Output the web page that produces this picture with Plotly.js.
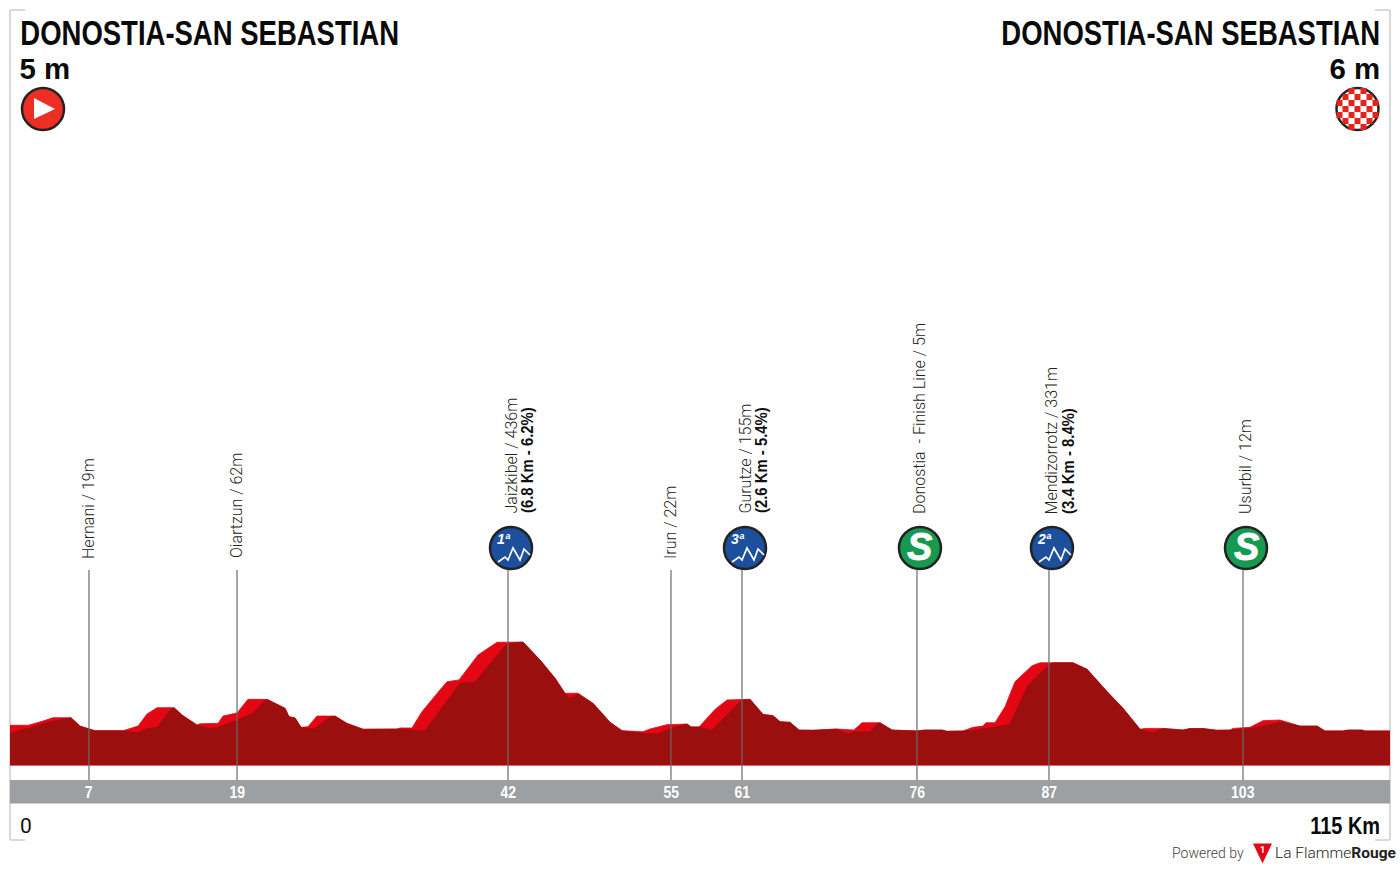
<!DOCTYPE html>
<html><head><meta charset="utf-8">
<script src="https://cdn.plot.ly/plotly-3.0.1.min.js"></script>
<style>html,body{margin:0;padding:0;background:#fff}#c{width:1400px;height:870px}</style>
</head><body><div id="c"></div>
<script>
const profileKm=[0,1.53,2.75,3.58,5.08,5.83,6.5,7.08,9.42,10.67,11.42,12.25,13.67,14.33,15.58,15.83,17.33,17.75,18.92,19.83,21.42,22.92,23.25,23.75,24.25,24.83,25.58,27.08,28.08,29.42,32.25,32.5,33.5,34.33,35.83,36.42,37.42,39,40.58,42.75,44.17,45.42,46.25,47.33,48.58,50,51,52.75,53.33,54.75,56.42,56.75,57.42,58.75,59.75,61.67,62.75,63.58,64.17,65,65.75,66.92,68.92,70.33,71,72.5,73.5,75.58,76.25,77.67,78.08,79.42,80.25,81.08,81.33,82.08,82.92,83.75,85.17,85.83,88.58,89.75,91.42,92.75,94.17,94.58,96.08,97.75,98.33,99.42,100.58,101.67,101.92,103.33,104.42,105.83,107.5,108.92,109.58,111.08,111.5,112.67,112.92,115];
const profileM=[37,37,57,73,73,33,21,11,11,33,91,121,121,86,38,44,46,81,96,161,161,118,78,72,27,30,81,81,46,18,19,24,24,102,206,245,254,373,434,435,349,262,190,190,142,51,11,6,19,40,43,29,29,113,158,161,89,83,54,51,14,13,19,14,49,49,14,10,14,14,8,10,27,33,49,49,126,245,322,336,336,305,198,118,18,22,22,14,21,21,13,14,22,27,59,62,33,33,10,10,14,14,10,10];
const shadeKm=[0,0.83,1.92,3.33,4.83,5.08,5.83,6.5,7.08,9.42,10.58,11.42,12.25,13.33,13.67,14.33,15.58,16.67,17.33,18.92,20.25,21.25,21.42,22.92,23.25,23.75,24.25,25.25,26.67,27.08,28.08,29.42,32.25,33.5,34.58,37.5,38.75,41.08,41.5,42.75,44.17,45.42,46.25,46.67,47.33,48.58,50,51,52.75,53.92,55,56.42,56.75,57.42,58.5,60.83,61.08,61.67,62.75,63.58,64.17,65,65.75,66.92,68.92,69.83,70.33,71.67,72.33,72.5,73.5,75.58,76.25,77.67,78.08,79.83,82.25,83.33,84.83,86.42,86.92,88.58,89.75,91.42,92.75,94.17,95.17,96.08,97.75,98.33,99.42,100.58,101.67,103.33,104.42,106,107.5,108.92,109.58,111.08,111.5,112.67,112.92,115];
const shadeM=[-1,14,30,54,70,73,33,21,11,11,1,21,27,110,121,86,38,22,27,62,96,155,161,118,78,72,27,18,75,81,46,18,19,14,11,238,245,405,429,435,349,262,190,166,187,142,51,11,-1,-5,22,43,29,29,14,150,158,161,89,83,54,51,14,13,19,-5,6,6,46,49,14,10,14,14,8,10,30,43,230,317,336,336,305,198,118,18,1,22,14,21,21,13,14,22,33,54,33,33,10,10,14,14,10,10];
const stopKm=[6.58,18.92,41.5,55.08,61,75.58,86.58,102.75];
const stopTicks=['7','19','42','55','61','76','87','103'];
const stopNames=['Hernani / 19m','Oiartzun / 62m','Jaizkibel / 436m','Irun / 22m','Gurutze / 155m','Donostia  - Finish Line / 5m','Mendizorrotz / 331m','Usurbil / 12m'];
const stopDetails=['','','(6.8 Km - 6.2%)','','(2.6 Km - 5.4%)','','(3.4 Km - 8.4%)',''];
const stopBadges=['','','1','','3','S','2','S'];
const placeName='DONOSTIA-SAN SEBASTIAN';
const startAlt='5 m', finishAlt='6 m', startKm='0', totalKm='115 Km';

const W=1400,H=870,L=10,R=1390;
const fx=p=>(p-L)/(R-L), fy=p=>1-p/H;
const elev=p=>(733-p)/0.209;
const baseM=elev(765.5), KMAX=115;
const BOLD='"Liberation Sans",sans-serif';
const LIGHT='Roboto,"Liberation Sans",sans-serif';

const shapes=[],ann=[],squeeze={};
function addAnn(a,f){ann.push(a);if(f)squeeze[ann.length-1]=f;}
const frame='#d9d9d9';
[[10,10,10,840],[10,10,25,10],[10,840,25,840],[1390,10,1390,840],[1375,10,1390,10],[1375,840,1390,840]].forEach(s=>
 shapes.push({type:'line',xref:'paper',yref:'paper',x0:fx(s[0]),x1:fx(s[2]),y0:fy(s[1]),y1:fy(s[3]),line:{color:frame,width:2},layer:'below'}));
shapes.push({type:'rect',xref:'paper',yref:'paper',x0:0,x1:1,y0:fy(803.5),y1:fy(780),fillcolor:'#9da0a2',line:{width:0},layer:'below'});

function iconPath(cxPx,cyPx,path,o){
 shapes.push(Object.assign({type:'path',xref:'paper',yref:'paper',xsizemode:'pixel',ysizemode:'pixel',
   xanchor:fx(cxPx),yanchor:fy(cyPx),path:path,line:{width:0}},o));
}
function circ(r){const k=r*0.5523;return `M${-r},0C${-r},${k} ${-k},${r} 0,${r}C${k},${r} ${r},${k} ${r},0C${r},${-k} ${k},${-r} 0,${-r}C${-k},${-r} ${-r},${-k} ${-r},0Z`;}

stopKm.forEach((k,i)=>{
 shapes.push({type:'line',xref:'x',yref:'paper',x0:k,x1:k,y0:fy(570),y1:fy(780),line:{color:'rgba(105,105,105,0.8)',width:1.5}});
 addAnn({xref:'x',yref:'paper',x:k,y:fy(792),text:stopTicks[i],showarrow:false,font:{family:BOLD,size:16.5,color:'#fff',weight:700},xanchor:'center',yanchor:'middle'},0.85);
 const b=stopBadges[i];
 const px=L+k*12;
 addAnn({xref:'x',yref:'paper',x:k,xshift:b?2.5:-1,y:fy(b?514:558.5),text:stopNames[i],textangle:-90,showarrow:false,
   font:{family:LIGHT,size:16,color:'#222',weight:300},xanchor:'center',yanchor:'bottom',borderpad:0,borderwidth:0});
 if(stopDetails[i]) addAnn({xref:'x',yref:'paper',x:k,xshift:19.5,y:fy(460.5),text:stopDetails[i],textangle:-90,showarrow:false,
   font:{family:BOLD,size:16,color:'#111',weight:700},xanchor:'center',yanchor:'middle',borderpad:0},0.93);
 if(b){
  const cx=px+3,cy=548;
  iconPath(cx,cy,circ(21),{fillcolor:b==='S'?'#17994f':'#1c4f9c',line:{color:'#222',width:2.5}});
  if(b==='S'){
   addAnn({xref:'paper',yref:'paper',x:fx(cx),y:fy(cy-1),text:'<b><i>S</i></b>',showarrow:false,font:{family:BOLD,size:38,color:'#fff'},xanchor:'center',yanchor:'middle'});
  }else{
   addAnn({xref:'paper',yref:'paper',x:fx(cx-7),y:fy(cy-9),text:'<b><i>'+b+'ª</i></b>',showarrow:false,font:{family:BOLD,size:14,color:'#fff'},xanchor:'center',yanchor:'middle'});
   iconPath(cx,cy,'M-13,-14L-6,-9L-3,-12L2,0L9,-12L13,-1L19,-7',{line:{color:'#fff',width:1.7},fillcolor:'rgba(0,0,0,0)'});
  }
 }
});

const hdr=(t,xp,yp,size,f)=>addAnn({xref:'paper',yref:'paper',x:fx(xp),y:fy(yp),text:t,showarrow:false,xanchor:'center',yanchor:'middle',
  font:{family:BOLD,size:size,color:'#0a0a0a',weight:700}},f);
hdr(placeName,209.5,33.5,34.5,0.797);
hdr(placeName,1190.5,33.5,34.5,0.797);
hdr(startAlt,45,68.5,30,0.98);
hdr(finishAlt,1355,68.5,30,0.98);
addAnn({xref:'paper',yref:'paper',x:fx(26),y:fy(826),text:startKm,showarrow:false,xanchor:'center',yanchor:'middle',font:{family:LIGHT,size:21,color:'#111'}});
hdr(totalKm,1345,826,23.5,0.85);

iconPath(43,109,circ(21),{fillcolor:'#ee2e24',line:{color:'#222',width:2.5}});
iconPath(43,109,'M-9,-10L12,0L-9,11Z',{fillcolor:'#fff'});
iconPath(1357.5,109,circ(21),{fillcolor:'#fff',line:{color:'#222',width:2.5}});
for(let r=-3;r<=3;r++)for(let c=-3;c<=3;c++){
 if((r+c)%2!==0)continue;
 const a=c*6,b=r*6,d=Math.hypot(a,b);
 if(d>19)continue;
 iconPath(1357.5,109,`M${a-3},${b-3}L${a+3},${b-3}L${a+3},${b+3}L${a-3},${b+3}Z`,{fillcolor:'#e5231b'});
}
addAnn({xref:'paper',yref:'paper',x:fx(1208),y:fy(853),text:'Powered by',showarrow:false,xanchor:'center',yanchor:'middle',font:{family:LIGHT,size:14,color:'#444',weight:300}});
iconPath(1262.5,853.5,'M-9.5,10L9.5,10L0,-10Z',{fillcolor:'#e30613'});
addAnn({xref:'paper',yref:'paper',x:fx(1262.5),y:fy(849.5),text:'<b>1</b>',showarrow:false,xanchor:'center',yanchor:'middle',font:{family:LIGHT,size:9,color:'#fff'}});
addAnn({xref:'paper',yref:'paper',x:fx(1335),y:fy(853),text:'La Flamme<b>Rouge</b>',showarrow:false,xanchor:'center',yanchor:'middle',font:{family:LIGHT,size:15.5,color:'#222',weight:300}});

const base={x:[0,KMAX],y:[baseM,baseM],mode:'lines',line:{width:0},hoverinfo:'skip',showlegend:false};
const traces=[
 Object.assign({},base),
 {x:profileKm,y:profileM,mode:'lines',line:{color:'#e30613',width:0.8},fill:'tonexty',fillcolor:'#e30613',hoverinfo:'skip',showlegend:false},
 Object.assign({},base),
 {x:shadeKm,y:shadeM,mode:'lines',line:{color:'#9b0f0e',width:0.5},fill:'tonexty',fillcolor:'#9b0f0e',hoverinfo:'skip',showlegend:false},
 {x:[0,KMAX],y:[baseM,baseM],mode:'lines',line:{color:'#e8636b',width:1},hoverinfo:'skip',showlegend:false}
];
Plotly.newPlot('c',traces,{
 width:W,height:H,margin:{l:L,r:W-R,t:0,b:0},paper_bgcolor:'#fff',plot_bgcolor:'rgba(0,0,0,0)',showlegend:false,
 xaxis:{range:[0,KMAX],visible:false,fixedrange:true},
 yaxis:{range:[elev(H),elev(0)],visible:false,fixedrange:true},
 shapes:shapes,annotations:ann
},{displayModeBar:false,staticPlot:true}).then(gd=>{
 gd.querySelectorAll('.annotation').forEach(g=>{
  const t=g.querySelector('text.annotation-text');
  if(!t)return;
  if(t.textContent==='S'){t.style.stroke='#fff';t.style.strokeWidth='0.8px';}
  const f=squeeze[+g.getAttribute('data-index')];
  if(!f)return;
  const bb=t.getBBox(),c=bb.x+bb.width/2;
  t.setAttribute('transform',`translate(${c},0) scale(${f},1) translate(${-c},0)`);
 });
});
</script></body></html>
